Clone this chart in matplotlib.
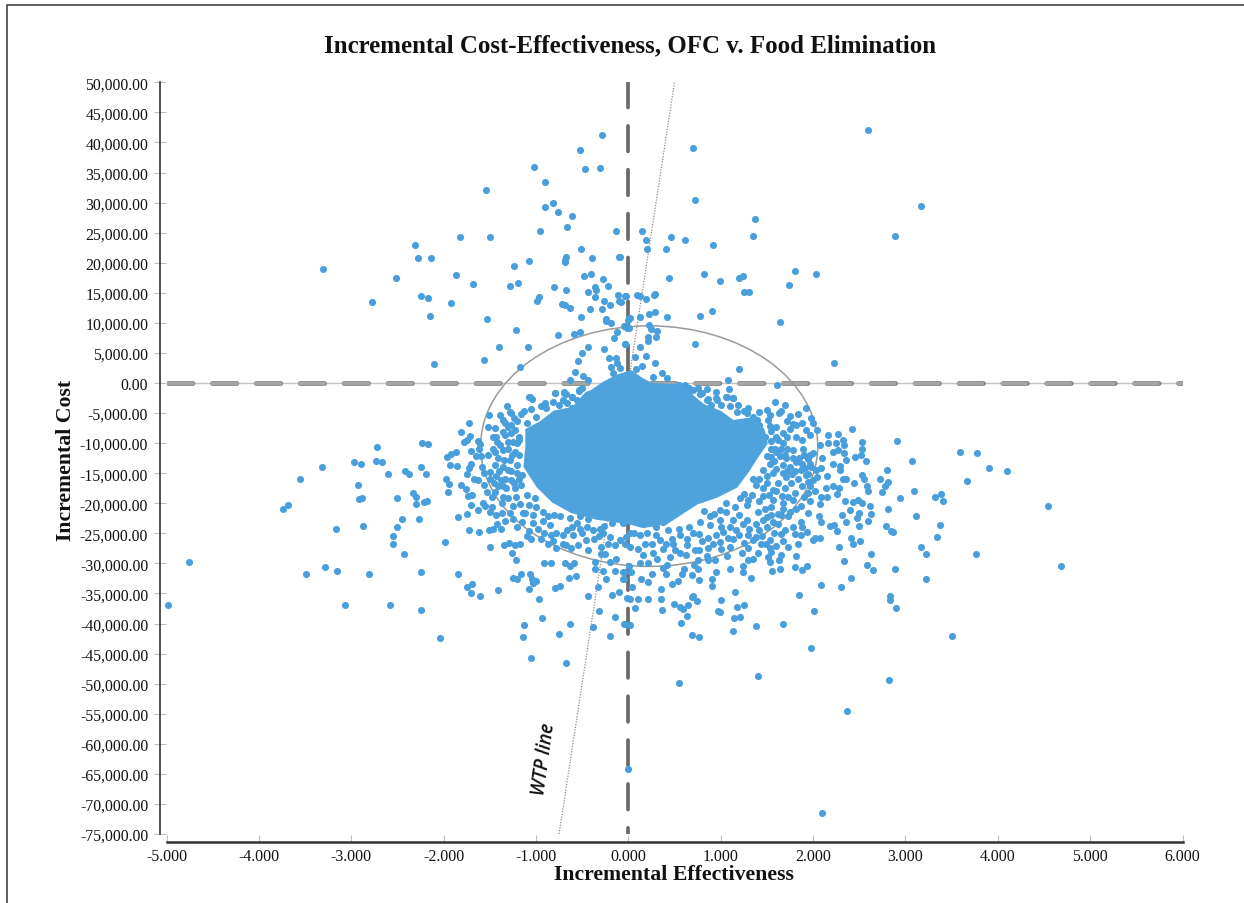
import matplotlib
matplotlib.use('Agg')
import matplotlib.pyplot as plt
from matplotlib.patches import Ellipse, Rectangle
from matplotlib.ticker import FuncFormatter
import numpy as np

# every point is (effectiveness, cost in thousands)
pts_upper = [(-3.31,19.0),(-2.775,13.4),(-2.52,17.5),(-2.31,23.0),(-2.28,20.8),(-2.14,20.7),(-2.245,14.4),(-2.17,14.1),
(-2.15,11.1),(-2.10,3.1),(-1.92,13.3),(-1.865,18.0),(-1.825,24.2),(-1.68,16.5),(-1.545,32.1),(-1.50,24.3),(-1.535,10.6),
(-1.56,3.9),(-1.405,5.9),(-1.22,8.8),(-1.09,5.9),(-1.17,2.6),(-1.24,19.4),(-1.07,20.3),(-1.285,16.1),(-1.19,16.7),
(-0.99,13.6),(-0.97,14.3),(-1.016,35.9),(-0.897,33.5),(-0.897,29.3),(-0.817,30.0),(-0.765,28.5),(-0.955,25.2),(-0.667,25.9),
(-0.605,27.8),(-0.526,38.7),(-0.473,35.6),(-0.283,41.3),(-0.305,35.8),(-0.128,25.3),(-0.508,22.3),(-0.68,21.0),(-0.69,20.5),
(-0.69,20.1),(-0.393,20.7),(-0.106,21.0),(-0.80,16.0),(-0.67,15.4),(-0.477,17.8),(-0.40,18.2),(-0.278,17.3),(-0.217,16.1),
(-0.362,16.0),(-0.44,15.1),(-0.353,15.4),(-0.358,14.3),(-0.115,14.6),(-0.03,14.5),(-0.097,13.6),(-0.26,13.6),(-0.203,12.9),
(-0.716,13.2),(-0.685,13.0),(-0.636,12.4),(-0.41,12.3),(-0.287,12.3),(-0.517,11.0),(-0.247,10.7),(-0.243,10.3),(-0.19,9.9),
(-0.049,9.5),(0.004,10.8),(-0.018,9.1),(-0.124,8.5),(-0.16,7.5),(-0.76,7.9),(-0.588,8.1),(-0.526,8.4),(-0.433,5.9),
(-0.50,5.0),(-0.548,3.6),(-0.574,1.8),(-0.265,5.7),(-0.04,6.5),(-0.212,4.2),(-0.137,4.1),(-0.12,3.3),(-0.186,2.7),
(-0.088,2.5),(-0.168,1.6),(-0.627,0.55),(-0.486,1.1),(-0.44,0.55),(-0.53,-1.2),(-0.70,-1.55),(-0.79,-1.7),(-0.614,-2.3),
(-1.065,-2.3),(2.59,42.1),(0.70,39.0),(0.726,30.5),(3.17,29.4),(2.89,24.4),(1.373,27.2),(1.352,24.5),(0.149,25.2),
(0.187,23.7),(0.20,22.3),(0.467,24.2),(0.61,23.7),(0.916,22.9),(0.407,22.3),(0.442,17.5),(0.821,18.2),(0.994,16.9),
(1.2,17.4),(1.244,17.8),(1.257,15.1),(1.309,15.2),(1.80,18.6),(2.03,18.1),(1.736,16.3),(1.64,10.1),(2.232,3.4),
(1.197,2.4),(0.726,6.5),(0.778,11.1),(0.908,11.9),(0.42,10.9),(0.29,11.8),(0.222,11.5),(0.131,11.0),(0.097,14.6),
(0.131,14.4),(0.192,13.9),(0.273,14.6),(0.286,14.8),(-0.033,14.4),(-0.084,13.5),(0.015,10.8),(-0.007,10.5),(-0.041,9.5),
(0.002,9.2),(0.222,9.6),(0.243,8.9),(0.312,8.6),(0.213,7.7),(0.304,7.6),(0.213,6.9),(-0.041,6.5),(0.127,6.0),
(0.071,4.3),(0.192,4.5),(0.291,3.3),(0.148,2.8),(0.08,2.4),(0.364,1.6),(0.269,1.05),(0.424,0.9),(1.076,0.45),
(1.093,-1.05),(0.847,-0.95),(1.611,-0.4),(1.063,-2.3),(1.136,-2.5),(0.951,-2.55),(0.865,-2.7),(0.554,-0.3),(0.61,-0.3),
(-0.093,21.0)]

pts_lower_left = [(-4.98,-36.9),(-4.756,-29.8),(-3.49,-31.7),(-3.28,-30.6),(-3.15,-31.3),(-2.81,-31.7),(-3.07,-36.9),(-2.58,-36.9),
(-2.244,-37.7),(-2.25,-31.4),(-2.04,-42.4),(-1.99,-26.5),(-1.84,-31.7),(-1.745,-33.9),(-1.69,-33.5),(-1.70,-35.0),(-1.61,-35.4),
(-1.41,-34.5),(-1.25,-32.5),(-1.20,-32.6),(-1.16,-31.7),(-1.06,-31.8),(-1.045,-32.6),(-1.00,-32.9),(-1.03,-33.2),(-1.07,-34.3),
(-0.97,-36.0),(-0.93,-39.1),(-1.125,-40.2),(-1.14,-42.2),(-1.05,-45.7),(-0.68,-46.5),(-0.747,-41.8),(-0.627,-40.1),(-0.79,-34.1),
(-0.735,-33.8),(-0.64,-32.5),(-0.565,-32.1),(-0.44,-35.5),(-0.33,-33.9),(-0.245,-32.6),(-0.363,-30.9),(-0.357,-29.8),(-0.273,-31.2),
(-0.313,-38.0),(-0.385,-40.6),(-0.193,-42.1),(-0.147,-38.9),(-0.043,-40.0),(-0.18,-35.2),(-0.097,-34.7),(-0.017,-35.8),(-0.053,-32.6),
(-0.143,-31.3),(-0.05,-31.4),(-0.20,-29.8),(-0.132,-29.2),(-0.298,-28.4),(-0.912,-29.9),(-0.836,-29.9),(-0.682,-29.9),(-0.627,-30.4),
(-0.59,-29.9),(-1.22,-29.4),(-1.26,-28.3),(-1.50,-27.2),(-1.345,-27.0),(-1.29,-26.6),(-1.225,-27.0),(-1.176,-26.7),(-1.096,-25.4),
(-0.87,-26.7),(-0.82,-26.2),(-0.786,-27.5),(-0.678,-27.0),(-0.624,-27.5),(-0.435,-27.8),(0.0,-64.2)]

pts_left = [(-3.74,-21.0),(-3.68,-20.3),(-3.56,-16.0),(-3.32,-13.9),(-2.97,-13.2),(-2.89,-13.5),(-2.72,-10.7),(-2.73,-12.9),
(-2.665,-13.1),(-2.60,-15.2),(-2.42,-14.7),(-2.37,-15.2),(-2.24,-13.9),(-2.19,-15.1),(-2.23,-9.9),(-2.17,-10.2),(-2.93,-17.0),
(-2.915,-19.3),(-2.88,-19.1),(-2.50,-19.2),(-2.33,-18.3),(-2.30,-19.0),(-2.30,-20.2),(-2.21,-19.8),(-2.185,-19.6),(-2.27,-22.6),
(-2.45,-22.6),(-2.50,-24.0),(-2.87,-23.8),(-3.16,-24.3),(-2.55,-25.4),(-2.55,-26.8),(-2.43,-28.5),(-1.73,-6.7),(-1.81,-8.2),
(-1.715,-8.8),(-1.745,-9.4),(-1.78,-9.8),(-1.63,-9.6),(-1.61,-10.1),(-1.62,-10.9),(-1.70,-11.3),(-1.87,-11.4),(-1.92,-11.8),
(-1.96,-12.3),(-1.93,-13.6),(-1.86,-13.8),(-1.70,-13.4),(-1.73,-14.2),(-1.65,-12.1),(-1.59,-12.1),(-1.58,-13.9),(-1.75,-15.2),
(-1.97,-15.9),(-1.945,-16.8),(-1.95,-18.2),(-1.81,-17.0),(-1.755,-17.6),(-1.735,-18.8),(-1.695,-18.7),(-1.67,-15.9),(-1.63,-16.1),
(-1.56,-16.9),(-1.56,-15.0),(-1.50,-16.0),(-1.53,-18.2),(-1.70,-20.3),(-1.75,-21.8),(-1.84,-22.3),(-1.73,-24.4),(-1.62,-24.7),
(-1.51,-24.4),(-1.47,-24.3),(-1.63,-21.1),(-1.57,-19.9),(-1.55,-20.5),(-1.48,-20.6),(-1.50,-21.4),(-1.43,-22.0),(-1.37,-21.7),
(-1.25,-22.6),(-1.15,-23.2),(-1.14,-21.6),(-1.25,-20.5),(-1.355,-18.9),(-1.41,-17.2),(-1.355,-17.1),(-1.45,-16.7),(-1.34,-15.9),
(-1.40,-14.6),(-1.30,-14.4),(-1.35,-12.8),(-1.41,-12.4),(-1.46,-10.9),(-1.39,-10.3),(-1.52,-7.3),(-1.44,-7.5),(-1.36,-8.2),
(-1.435,-9.0),(-1.51,-5.3),(-1.385,-5.3),(-1.31,-3.9),(-1.285,-4.9),(-1.355,-6.2),(-1.235,-5.9),(-1.13,-4.7),(-1.075,-2.4),
(-1.04,-2.7),(-0.95,-3.9),(-0.89,-4.2),(-0.815,-3.1),(-0.79,-1.7),(-0.70,-1.6),(-0.71,-2.8),(-0.605,-2.4),(-0.53,-1.3),
(-0.61,-4.1),(-0.995,-5.6),(-1.30,-7.3),(-1.23,-7.8),(-1.10,-6.7),(-1.30,-9.8),(-1.21,-10.0),(-1.25,-9.8),(-1.265,-7.0),
(-1.21,-13.6),(-1.18,-15.9),(-1.23,-17.5),(-1.28,-12.8),(-1.23,-11.4),(-1.30,-10.9),(-1.265,-16.1),(-1.32,-17.5),
(-1.10,-18.6),(-1.01,-19.2),(-0.995,-20.6),(-0.925,-21.4),(-0.80,-22.0),(-0.745,-22.2),(-0.635,-22.5),(-0.56,-23.3),(-0.45,-23.9),
(-0.38,-24.5),(-0.31,-24.2),(-0.615,-23.9),(-0.85,-23.6),(-1.03,-23.3),(-0.705,-25.3),(-0.60,-25.3),(-0.78,-25.0),(-0.20,-25.6),
(-0.09,-26.1),(-0.22,-26.7),(-0.145,-27.0),(-0.04,-26.7),(-0.455,-26.1),(-0.705,-26.7),(-0.18,-23.3),(-0.055,-23.3),(0.015,-25.0)]

pts_right = [(2.906,-9.6),(3.07,-12.9),(3.59,-11.5),(3.78,-11.7),(3.90,-14.2),(4.10,-14.6),(3.67,-16.3),(4.54,-20.5),(4.68,-30.4),
(3.76,-28.5),(3.22,-32.6),(3.505,-42.1),(3.385,-18.4),(3.32,-19.0),(3.405,-19.7),(3.37,-23.6),(3.34,-25.6),(3.17,-27.3),(3.22,-28.4),
(3.115,-22.2),(3.095,-17.9),(2.94,-19.2),(2.81,-21.0),(2.80,-14.5),(2.73,-15.9),(2.815,-16.5),(2.775,-17.1),(2.75,-18.2),(2.79,-23.8),
(2.84,-24.6),(2.865,-24.8),(2.63,-28.4),(2.58,-30.3),(2.645,-31.1),(2.89,-31.0),(2.415,-32.5),(2.30,-34.0),(2.09,-33.6),(2.83,-35.4),
(2.83,-36.1),(2.90,-37.5),(1.85,-35.3),(2.01,-37.9),(1.68,-40.0),(1.38,-40.4),(1.975,-44.0),(1.405,-48.8),(2.82,-49.4),(0.55,-49.9),
(2.37,-54.5),(2.10,-71.5),(1.535,-27.5),(2.285,-27.2),(2.34,-29.6),(2.415,-25.8),(2.43,-26.7),(2.51,-26.3),(2.0,-26.1),(2.02,-25.7),
(2.07,-25.8),(1.84,-26.8),(1.60,-27.1),(1.53,-26.1),(1.49,-26.8),(1.435,-26.7),(1.35,-26.1),(1.73,-27.2),(1.675,-26.2),(1.655,-25.1),
(1.80,-25.1),(1.866,-25.3),(1.93,-24.7),(1.783,-23.9),(1.873,-23.1),(1.885,-23.9),(1.73,-22.2),(1.75,-21.4),(1.873,-20.5),(1.945,-21.6),
(2.065,-22.1),(2.09,-23.1),(2.18,-23.8),(2.225,-23.6),(2.26,-24.6),(2.36,-23.2),(2.495,-23.7),(2.595,-22.9),(2.63,-21.8),(2.615,-20.5),
(2.475,-22.4),(2.50,-21.7),(2.395,-21.1),(2.315,-21.9),(2.345,-19.6),(2.435,-19.8),(2.49,-19.4),(2.525,-19.9),(2.07,-20.1),(1.965,-19.7),
(2.15,-19.0),(2.09,-18.9),(2.26,-18.5),(2.145,-17.5),(2.22,-17.1),(2.28,-17.4),(2.155,-15.5),(2.045,-15.6),(2.0,-16.1),(2.325,-16.0),
(2.36,-16.0),(2.44,-16.7),(2.535,-15.3),(2.55,-16.0),(2.58,-17.1),(2.595,-18.0),(2.57,-13.0),(2.45,-12.3),(2.52,-12.0),(2.525,-10.9),
(2.535,-9.8),(2.42,-7.7),(2.265,-8.5),(2.325,-9.4),(2.165,-8.6),(2.165,-10.0),(2.25,-9.9),(2.34,-10.3),(2.215,-11.4),(2.27,-11.1),
(2.33,-11.6),(2.36,-12.8),(2.215,-13.5),(2.29,-13.8),(2.295,-14.5),(2.10,-12.5),(2.09,-14.2),(2.035,-14.5),(2.04,-7.9),(1.97,-8.6),
(1.92,-7.9),(2.0,-6.7),(1.98,-5.9),(1.92,-4.2),(1.84,-5.2),(1.875,-6.7),(1.82,-7.0),(1.75,-7.7),(1.82,-9.0),(1.875,-9.4),(1.695,-3.7),
(1.585,-3.2),(1.63,-5.0),(1.53,-5.3),(1.515,-6.2),(1.53,-7.2),(1.25,-4.7),(1.19,-3.7),(1.135,-2.5),(1.06,-2.3),(0.955,-2.8),(0.853,-2.8),
(1.35,-5.6),(1.39,-6.2),(1.6,-8.9),(1.675,-10.0),(1.585,-10.9),(1.785,-11.1),(1.89,-10.9),
(2.07,-10.3),(2.0,-11.7),(1.71,-12.5),(1.82,-13.1),(1.91,-14.2),(1.965,-13.4),(1.6,-11.4),(1.53,-13.4),
(1.675,-13.6),(1.565,-15.0),(1.71,-15.6),(1.765,-16.7),(1.695,-17.5),(1.875,-17.2),(1.965,-17.2),(1.46,-17.5),(1.565,-17.8),(1.35,-15.9),
(1.46,-14.5),(1.335,-18.6),(1.205,-19.2),(1.42,-19.7),(1.565,-19.5),(1.675,-20.0),(1.73,-18.9),(1.82,-20.9),(1.55,-20.6),
(1.405,-21.4),(1.46,-22.8),(1.565,-23.1),(1.28,-20.3),(1.15,-20.6),(1.06,-20.0),(0.99,-21.1),(0.88,-22.2),(0.99,-22.8),(1.135,-22.8),
(1.28,-22.8),(1.31,-24.2),(1.42,-24.5),(1.385,-25.6),(1.17,-24.5),(1.025,-24.7),
(1.135,-26.0),(0.88,-23.6),(0.77,-25.1),(0.43,-24.5),(0.30,-25.3),
(0.125,-25.3),(-0.02,-25.6),(0.485,-26.7),(0.63,-27.0),(0.77,-27.8),(0.92,-26.7),(0.99,-26.4),(0.555,-28.3),(0.45,-28.9),(0.27,-28.3),
(0.16,-28.6),(0.18,-26.7),(0.015,-27.2),(0.34,-26.1),(0.72,-27.8),(0.86,-27.5),(0.555,-25.3),(0.41,-26.7)]

pts_lower_right = [(1.13,-41.2),(1.145,-39.1),(1.21,-38.9),(1.18,-37.3),(1.25,-37.0),(1.16,-34.8),(1.007,-36.1),(0.975,-38.0),(0.99,-38.1),
(0.748,-36.3),(0.695,-35.4),(0.686,-35.6),(0.643,-37.0),(0.593,-37.6),(0.557,-37.3),(0.49,-36.8),(0.64,-38.7),(0.575,-39.9),(0.686,-41.9),
(0.77,-42.3),(0.369,-37.7),(0.355,-35.9),(0.355,-34.2),(0.21,-36.0),(0.102,-36.0),(0.015,-35.9),(0.07,-37.5),(-0.04,-40.0),(0.015,-40.2),
(0.474,-33.4),(0.54,-33.0),(0.134,-32.6),(0.214,-33.1),(0.044,-33.9),(-0.05,-32.6),(0.255,-31.8),(0.405,-31.7),(0.578,-31.7),(0.6,-31.0),
(0.686,-31.9),(0.752,-31.0),(0.76,-32.8),(0.903,-32.6),(0.903,-33.8),(0.953,-31.4),(1.105,-30.9),(1.24,-30.5),(1.24,-31.5),(1.325,-32.4),
(1.556,-31.3),(1.647,-31.0),(1.80,-30.6),(1.885,-31.1),(1.93,-30.5),(1.82,-28.8),(1.63,-29.4),(1.654,-28.6),(1.53,-29.7),(1.54,-28.1),
(1.517,-28.9),(1.40,-28.2),(1.35,-29.2),(1.296,-29.4),(1.235,-28.2),(1.07,-28.8),(0.936,-29.5),(0.863,-29.5),(0.755,-29.4),(0.708,-30.3),
(0.42,-30.3),(0.376,-30.7),(0.214,-30.0),(0.124,-29.9),(0.311,-29.3),(0.008,-30.4),(-0.057,-31.5),(0.033,-31.5)]

# round the edge of the solid part
pts_band = [(-1.47,-8.9),(-1.42,-9.8),(-1.33,-8.6),(-1.27,-8.3),(-1.18,-8.9),(-1.2,-6.4),(-1.16,-5.2),(-1.27,-5.0),(-1.33,-6.6),(-1.44,-11.5),
(-1.36,-11.1),(-1.26,-11.9),(-1.18,-12.0),(-1.18,-9.4),(-1.2,-14.9),(-1.27,-14.7),(-1.36,-14.0),(-1.44,-13.6),(-1.43,-15.4),(-1.24,-16.7),
(-1.16,-17.0),(-1.15,-15.3),(-1.44,-18.2),(-1.37,-20.0),(-1.3,-19.2),(-1.22,-19.0),(-1.17,-20.1),(-1.07,-20.3),(-1.12,-21.7),(-1.03,-21.9),
(-0.92,-22.9),(-0.87,-22.1),(-0.98,-24.3),(-1.08,-24.6),(-0.91,-24.9),(-0.84,-25.2),(-0.66,-24.4),(-0.5,-25.0),(-0.52,-24.2),(-0.37,-25.9),
(-0.32,-25.5),(-0.27,-24.9),(-0.26,-23.7),(-0.44,-22.6),(-0.52,-22.1),(-1.05,-4.4),(-0.9,-3.3),(-0.75,-3.6),(-0.66,-3.3),(-0.68,-1.9),
(-0.56,-2.9),(-0.5,-0.8),(0.06,-25.0),(0.2,-24.9),(0.3,-24.0),(0.38,-23.2),(0.47,-25.9),(0.55,-24.2),(0.63,-25.9),(0.7,-24.9),(0.66,-24.0),
(0.78,-23.1),(0.82,-21.3),(0.93,-21.8),(1.06,-21.4),(1.1,-23.9),(1.0,-24.0),(0.86,-25.8),(1.2,-21.9),(1.24,-23.4),(1.2,-25.3),(1.3,-25.2),
(1.38,-23.4),(1.5,-22.3),(1.55,-21.9),(1.48,-21.0),(1.62,-21.8),(1.68,-21.0),(0.1,-27.6),(0.26,-26.7),(0.38,-27.6),(0.5,-27.8),(0.62,-28.6),
(0.8,-26.2),(1.0,-27.6),(1.1,-27.2),(0.85,-28.8),(1.3,-27.4),(1.5,-12.2),(1.58,-12.9),(1.64,-12.2),(1.75,-13.9),(1.8,-14.7),(1.87,-14.4),
(1.92,-15.3),(1.84,-15.9),(1.6,-14.3),(1.68,-14.9),(1.77,-15.2),(1.5,-15.5),(1.42,-15.9),(1.38,-16.9),(1.5,-16.6),(1.62,-16.6),(1.6,-18.0),
(1.52,-18.6),(1.46,-18.8),(1.66,-18.8),(1.8,-18.3),(1.3,-19.5),(1.25,-18.5),(1.72,-10.9),(1.65,-11.0),(1.55,-9.7),(1.62,-9.4),(1.72,-9.0),
(1.9,-11.9),(1.95,-12.6),(1.85,-12.4),(1.78,-12.4),(1.98,-14.0),(1.95,-15.2),(1.55,-8.0),(1.6,-7.4),(1.42,-7.0),(1.38,-7.2),(1.28,-5.0),
(1.42,-4.8),(1.18,-4.8),(1.1,-3.8),(1.0,-3.6),(0.9,-3.6),(0.78,-1.9),(0.7,-1.2),(0.75,-0.8),
(-1.52,-12.0),(-1.5,-14.8),(-1.38,-16.2),(-1.48,-19.0),(-1.28,-21.6),(-1.2,-24.0),(-1.38,-24.3),(-1.33,-23.0),(-1.42,-23.4),(-1.05,-26.0),
(-0.95,-26.0),(-0.55,-27.0),(-0.3,-27.3),(-0.25,-28.5),(1.7,-11.9),(1.55,-11.0),(1.55,-12.3),(1.72,-14.7),(1.88,-13.4),(1.97,-12.0),
(1.95,-16.4),(2.02,-17.9),(1.9,-18.9),(1.95,-18.3),(1.65,-21.9),(1.78,-19.5),(1.62,-23.5),(1.7,-24.4),(1.5,-24.0),(1.58,-24.9),(1.45,-25.4),
(1.25,-26.6),(1.08,-25.8),(0.95,-25.2),(1.72,-6.3),(1.78,-6.8),(1.68,-8.4),(1.48,-9.0),(1.3,-4.2),(1.5,-4.5),(1.65,-4.7),(1.75,-5.5),
(0.35,-0.7),(0.45,-1.2),(0.52,-1.0),(0.66,-0.9),(0.8,-1.7),(0.95,-1.5)]

# solid middle of the cloud, single points can't be told apart here so its outline is read instead
core_x = [0.03,0.15,0.25,0.45,0.59,0.70,0.81,0.99,1.135,1.35,1.46,1.495,1.39,1.30,1.17,0.95,0.74,0.41,0.16,0.015,-0.345,-0.615,-0.815,-0.98,-1.12,-1.10,-1.10,-0.96,-0.80,-0.60,-0.454,-0.4,-0.265,-0.13]
core_y = [1.9,0.6,-0.2,-0.4,-0.3,-2.3,-3.7,-4.8,-6.4,-5.9,-7.8,-10.0,-12.3,-14.5,-17.2,-18.9,-20.0,-23.3,-23.9,-23.3,-22.5,-21.4,-19.7,-17.2,-13.9,-10.6,-7.8,-6.7,-4.8,-4.2,-1.7,-1.4,0.0,1.1]

wtp_x = [-0.75, 0.5]
wtp_y = [-75000, 50000]
x_ticks = [-5, -4, -3, -2, -1, 0, 1, 2, 3, 4, 5, 6]
y_ticks = list(range(-75000, 50001, 5000))

W, H = 1244, 904
plt.rcParams['font.family'] = ['Liberation Serif', 'DejaVu Sans']
fig = plt.figure(figsize=(W/100, H/100), dpi=100)
ax = fig.add_axes([166.5/W, 1-835/H, 1016/W, 751.7/H])
ax.set_xlim(-5, 6)
ax.set_ylim(-75000, 50000)

blue = '#489fdc'
all_pts = np.array(pts_upper + pts_lower_left + pts_left + pts_right + pts_lower_right + pts_band)
ax.scatter(all_pts[:, 0], all_pts[:, 1]*1000, s=26, color=blue, linewidths=0, zorder=4, clip_on=False)
ax.fill(core_x, np.array(core_y)*1000, color='#4ea3dc', lw=2, zorder=4)

# zero lines
ax.plot([-5, 6], [0, 0], color='#c4c4c4', lw=1, zorder=1)
ax.plot([-4.98, 6], [0, 0], color='#7c7c7c', lw=3.4, dashes=(5.18, 4.12), dash_capstyle='round', zorder=1.2)
ax.plot([-4.98, 6], [0, 0], color='#a6a6a6', lw=2.4, dashes=(7.33, 5.83), dash_capstyle='round', zorder=1.3)
ax.plot([0, 0], [50000, -75000], color='#6b6b6b', lw=2.7, dashes=(6.8, 4.9), dash_capstyle='round', zorder=1.4)

ax.plot(wtp_x, wtp_y, color='#8c8c8c', lw=0.9, ls=(0, (1, 1.2)), zorder=2)
ax.add_patch(Ellipse((0.226, -10500), 3.65, 40000, fill=False, ec='#9a9a9a', lw=1.1, zorder=3))

ax.text(-0.91, -62400, 'WTP line', rotation=82, ha='center', va='center', fontsize=13.5, style='italic',
        fontweight='semibold', family=['Open Sans', 'DejaVu Sans'], color='#111111')

for s in ['top', 'right']:
    ax.spines[s].set_visible(False)
ax.spines['left'].set_position(('outward', 4.7))
ax.spines['bottom'].set_position(('outward', 5.8))
ax.spines['left'].set_linewidth(1.1)
ax.spines['bottom'].set_linewidth(1.8)
ax.spines['left'].set_color('#222222')
ax.spines['bottom'].set_color('#333333')

ax.set_xticks(x_ticks)
ax.set_yticks(y_ticks)
ax.xaxis.set_major_formatter(FuncFormatter(lambda v, p: f'{v:.3f}'))
ax.yaxis.set_major_formatter(FuncFormatter(lambda v, p: f'{v:,.2f}'))
ax.tick_params(axis='y', direction='inout', length=9, width=0.8, color='#bdbdbd', labelsize=11.3, pad=4, labelcolor='#111111')
ax.tick_params(axis='x', direction='in', length=5, width=0.8, color='#bdbdbd', labelsize=11.4, pad=4, labelcolor='#111111')

fig.text(630/W, 1-46/H, 'Incremental Cost-Effectiveness, OFC v. Food Elimination', ha='center', va='center',
         fontsize=17.9, fontweight='bold', color='#111111')
fig.text(673.5/W, 1-875.5/H, 'Incremental Effectiveness', ha='center', va='center', fontsize=15.7, fontweight='bold', color='#111111')
fig.text(66/W, 1-460/H, 'Incremental Cost', ha='center', va='center', rotation=90, fontsize=15.7, fontweight='bold', color='#111111')

# frame round the whole picture
fig.add_artist(Rectangle((6.5/W, -0.1), 2, 1.1-5.5/H, transform=fig.transFigure, fill=False, ec='#333333', lw=1.1))

fig.savefig('out.png', dpi=100)
